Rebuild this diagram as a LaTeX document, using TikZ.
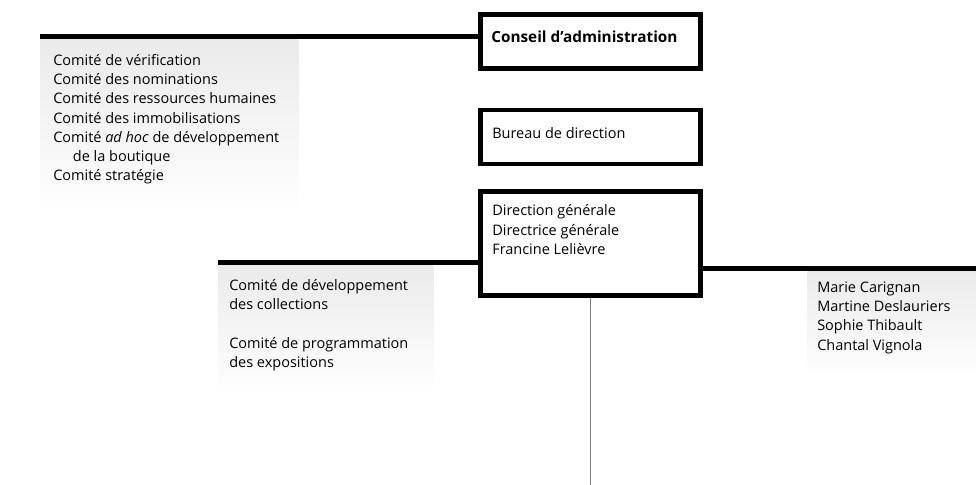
\documentclass[tikz,border=0pt]{standalone}
\usepackage{fontspec}
\setmainfont{Open Sans}
\usetikzlibrary{positioning,calc}
\tikzset{
  unitbox/.style={draw, line width=3.5pt, minimum width=5.5cm, minimum height=1.35cm, inner sep=0pt},
  panel/.style={anchor=north west, top color=black!8, bottom color=white, inner sep=0pt},
  link/.style={line width=3.5pt},
  stem/.style={line width=1.4pt, black!50},
  entry/.style={anchor=north west, inner sep=0pt, align=left, font=\fontsize{10.3}{13.7}\selectfont}
}
\begin{document}
\begin{tikzpicture}[x=0.025cm, y=-0.025cm]
    \useasboundingbox (0,0) rectangle (976,485);

    % Boxes: council, bureau, direction
    \node[unitbox] (conseil) at (590.5,41.5) {};
    \node[unitbox] (bureau) at (590.5,137) {};
    \node[unitbox, minimum height=2.6cm] (direction) at (590.5,243.5) {};

    % Panels: committees & members
    \node[panel, minimum width=6.45cm, minimum height=4.35cm] (comites) at (40,39) {};
    \node[panel, minimum width=5.375cm, minimum height=3.2cm] (collections) at (218,265) {};
    \node[panel, minimum width=4.225cm, minimum height=2.65cm] (membres) at (807,271) {};

    % Lines: panels to boxes
    \coordinate (comitestop) at ([yshift=1.77pt]comites.north west);
    \coordinate (collectionstop) at ([yshift=1.77pt]collections.north west);
    \coordinate (membrestop) at ([yshift=1.77pt]membres.north east);
    \draw[link] (comitestop) -- (comitestop -| conseil.west);
    \draw[link] (collectionstop) -- (collectionstop -| direction.west);
    \draw[link] (membrestop -| direction.east) -- (membrestop);

    % Line: below direction
    \coordinate (bas) at (590.5,485);
    \draw[stem] (direction.south) -- (bas);

    % Labels: boxes
    \node[entry] (conseiltext) at ([shift={(13,18.5)}]conseil.north west) {\fontsize{10.9}{13.7}\selectfont\textbf{Conseil d’administration}};
    \node[entry] (bureautext) at ([shift={(14,19.5)}]bureau.north west) {Bureau de direction};
    \node[entry] (directiontext) at ([shift={(14,15.5)}]direction.north west) {Direction générale\\Directrice générale\\Francine Lelièvre};

    % Labels: panels
    \node[entry] (comitestext) at ([shift={(13,15)}]comites.north west) {Comité de vérification\\
      Comité des nominations\\
      Comité des ressources humaines\\
      Comité des immobilisations\\
      Comité \textit{ad hoc} de développement\\
      \hspace*{14pt}de la boutique\\
      Comité stratégie};
    \node[entry] (collectionstext) at ([shift={(11,14)}]collections.north west) {Comité de développement\\
      des collections\\[13.7pt]
      Comité de programmation\\
      des expositions};
    \node[entry] (membrestext) at ([shift={(10,10.5)}]membres.north west) {Marie Carignan\\
      Martine Deslauriers\\
      Sophie Thibault\\
      Chantal Vignola};

\end{tikzpicture}
\end{document}
